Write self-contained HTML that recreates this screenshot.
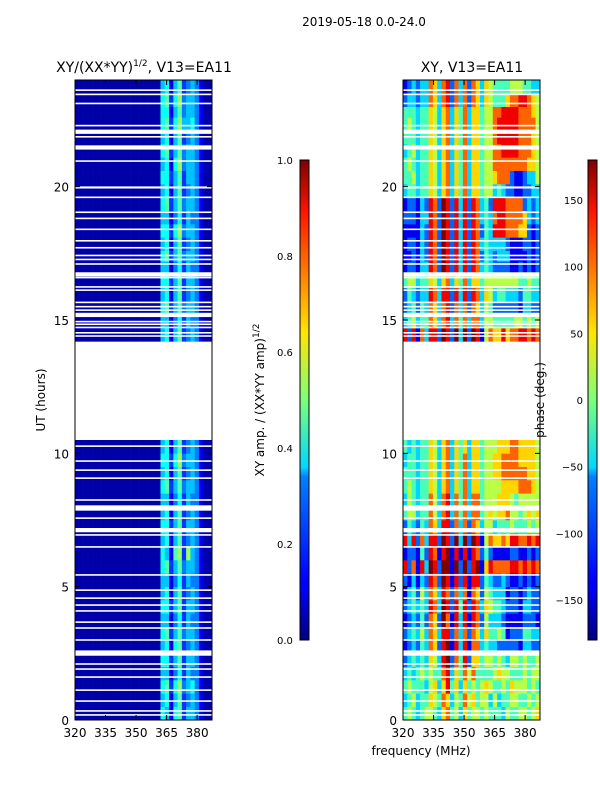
<!DOCTYPE html>
<html><head><meta charset="utf-8">
<style>
html,body{margin:0;padding:0;background:#fff;}
svg text{font-family:"DejaVu Sans","Liberation Sans",sans-serif;fill:#000;}
</style></head>
<body>
<svg id="chart" width="600" height="800" viewBox="0 0 600 800" xmlns="http://www.w3.org/2000/svg">
<defs>
<linearGradient id="jetg" x1="0" y1="1" x2="0" y2="0">
<stop offset="0" stop-color="#00007f"/><stop offset="0.11" stop-color="#0000ff"/>
<stop offset="0.125" stop-color="#0000ff"/><stop offset="0.34" stop-color="#0080ff"/>
<stop offset="0.36" stop-color="#00d8ff"/><stop offset="0.5" stop-color="#7dff7a"/>
<stop offset="0.64" stop-color="#ffe600"/><stop offset="0.66" stop-color="#ffd400"/>
<stop offset="0.89" stop-color="#ff1600"/><stop offset="1" stop-color="#7f0000"/>
</linearGradient>
</defs>
<text x="364" y="26" font-size="12" text-anchor="middle">2019-05-18 0.0-24.0</text>
<text x="144" y="72" font-size="14" text-anchor="middle">XY/(XX*YY)<tspan font-size="9" dy="-6">1/2</tspan><tspan dy="6">, V13=EA11</tspan></text>
<text x="472" y="72" font-size="14" text-anchor="middle">XY, V13=EA11</text>
<g id="leftPanel"></g>
<g id="rightPanel"></g>
<g id="axes"></g>
<text transform="translate(45,400) rotate(-90)" font-size="12" text-anchor="middle">UT (hours)</text>
<text x="421" y="755" font-size="12" text-anchor="middle">frequency (MHz)</text>
<text transform="translate(264,400) rotate(-90)" font-size="12" text-anchor="middle">XY amp. / (XX*YY amp)<tspan font-size="9" dy="-5">1/2</tspan></text>
<text transform="translate(544,400) rotate(-90)" font-size="12" text-anchor="middle">phase (deg.)</text>
<rect x="300" y="160" width="9" height="480" fill="url(#jetg)" stroke="#000" stroke-width="1"/>
<rect x="588" y="160" width="9" height="480" fill="url(#jetg)" stroke="#000" stroke-width="1"/>
</svg>
<script>
const ampRowTimes=[0,0.5,1,1.5,2,2.5,3,3.5,4,4.5,5,5.5,6,6.5,7,7.5,8,8.5,9,9.5,10,14.2,14.7,15.2,15.7,16.2,16.7,17.2,17.6,18.1,18.6,19.1,19.6,20.1,20.6,21.1,21.6,22.1,22.6,23.0,23.5];
const segmentEnds=[10.5,24];
const ampRows=[
"00000000000000000000541562443100","00000000000000000000451462343100","00000000000000000000562573453100",
"00000000000000000000441352433100","00000000000000000000552462443100","00000000000000000000451562343100",
"00000000000000000000562463443100","00000000000000000000441352433100","00000000000000000000552462443100",
"00000000000000000000451462343100","00000000000000000000441352433100","00000000000000000000562463443100",
"00000000000000000000541672743100","00000000000000000000451462343100","00000000000000000000552462443100",
"00000000000000000000451462343100","00000000000000000000441352433100","00000000000000000000562463443100",
"00000000000000000000451462343100","00000000000000000000552573443100","00000000000000000000451462343100",
"00000000000000000000451462343100","00000000000000000000441352433100","00000000000000000000562463443100",
"00000000000000000000451462343100","00000000000000000000552462443100","00000000000000000000441352433100",
"00000000000000000000562463443100","00000000000000000000451462343100","00000000000000000000552573443100",
"00000000000000000000441352433100","00000000000000000000562463443100","00000000000000000000451462343100",
"00000000000000000000552462443100","00000000000000000000451573443100","00000000000000000000562463443100",
"00000000000000000000451462343100","00000000000000000000562574453100","00000000000000000000551463443100",
"00000000000000000000562573443100","00000000000000000000451462343100"];
const phaseRows=[
"45434554367453645545444354455456","34534465476354756455353445544545","45444356368463645456544546555454",
"34345454478364757444456554445455","23434365389274826645545435545445","12324376289183817734332222213322",
"23435376388273727636445412224433","12324276297183818725333211112221","23434387398284828736544322213322",
"13425376387273717625433312212322","21313287298182818824322321121212","82718398299192928916877778878787",
"12214287189181818724211112211212","83827388298293929815766768877878","24324376388273727635534445444545",
"45534475378374737745656675545656","35434475378374737745556665455555","45434465367364736645555666677765",
"44434465367364736645566777777665","34434465367364736645566777766665","43434465367364636645556667766665",
"82817388298293929815766867788787","34534476378374737735544444554545","23424376378273727635422222213322",
"24323387388283828736534433324433","45534465367364736645555555544544","12213387298283828734322221121212",
"11213287298283828724323331111212","12213287298283828734333321112212","11113287298283828724388877766212",
"22213387298283828734378877776323","12213287298283828734288877772323","34434465367364736645534322112233",
"44534465367364736645567772112335","45434465367364736645577777777665","34534465367364736645577888877765",
"44434465367364736645578888877765","45434465367364736645578888877775","44434465367364736645577888877765",
"23323376378273727636544467788765","12323376378273727636544445554433"];
const freqStart=320, freqStep=2.1, freqEnd=387.3;
const flagTimes=[23.62,23.46,23.12,22.29,22.06,21.87,21.47,20.96,19.97,19.6,19.04,18.81,18.4,17.97,17.71,17.42,17.27,17.1,16.71,16.59,16.24,16.12,15.66,15.5,15.37,15.19,14.94,14.84,14.72,14.52,14.4,
10.27,9.71,9.37,9.07,8.25,7.95,7.57,7.12,6.94,6.49,5.44,4.87,4.57,4.31,4.09,3.67,3.45,3.0,2.51,2.1,1.91,1.61,1.12,0.71,0.34,0.19];
const flagWidths=[0.06,0.06,0.06,0.06,0.16,0.06,0.16,0.06,0.08,0.06,0.06,0.06,0.06,0.06,0.06,0.06,0.06,0.06,0.16,0.06,0.06,0.06,0.06,0.06,0.06,0.16,0.06,0.06,0.06,0.06,0.06,
0.06,0.06,0.06,0.06,0.06,0.2,0.06,0.16,0.06,0.06,0.06,0.06,0.06,0.06,0.06,0.06,0.06,0.06,0.2,0.06,0.06,0.06,0.06,0.06,0.06,0.06];
const yTicks=[0,5,10,15,20];
const xTicks=[320,335,350,365,380];
const ampTicks=["0.0","0.2","0.4","0.6","0.8","1.0"];
const ampTickVals=[0,0.2,0.4,0.6,0.8,1.0];
const phaseTicks=[-150,-100,-50,0,50,100,150];

const NS="http://www.w3.org/2000/svg";
const PT=80,PB=720;
function yScale(h){return PB-(h/24)*(PB-PT);}
function xScale(f,x0){return x0+(f-320)*(137/(freqEnd-320));}
function jet(v){
  function c(x){return Math.max(0,Math.min(1,x));}
  const r=c(1.5-Math.abs(4*v-3)),g=c(1.5-Math.abs(4*v-2)),b=c(1.5-Math.abs(4*v-1));
  return "rgb("+Math.round(r*255)+","+Math.round(g*255)+","+Math.round(b*255)+")";
}
function rowEnd(i){
  const t=ampRowTimes[i],n=ampRowTimes[i+1];
  for(const e of segmentEnds){ if(t<e && (n===undefined||n>e)) return e; }
  return n;
}
function drawPanel(gid,rows,x0,lo,span){
  const g=document.getElementById(gid);
  rows.forEach((row,i)=>{
    const t0=ampRowTimes[i],t1=rowEnd(i);
    for(let j=0;j<row.length;j++){
      const f0=freqStart+j*freqStep,f1=Math.min(freqEnd,f0+freqStep);
      const v=lo+span*(+row[j])/9;
      const r=document.createElementNS(NS,"rect");
      
      
      r.setAttribute("x",xScale(f0,x0));r.setAttribute("width",xScale(f1,x0)-xScale(f0,x0)+0.3);
      r.setAttribute("y",yScale(t1));r.setAttribute("height",yScale(t0)-yScale(t1)+0.3);
      r.setAttribute("fill",jet(v));
      g.appendChild(r);
    }
  });
  flagTimes.forEach((t,k)=>{
    const r=document.createElementNS(NS,"rect");
    
    
    r.setAttribute("x",x0);r.setAttribute("width",137);
    r.setAttribute("y",yScale(t+flagWidths[k]/2));
    r.setAttribute("height",yScale(t-flagWidths[k]/2)-yScale(t+flagWidths[k]/2));
    r.setAttribute("fill","#fff");
    g.appendChild(r);
  });
}
drawPanel("leftPanel",ampRows,75,0.04,0.62);
drawPanel("rightPanel",phaseRows,403,0.0,1.0);
const ax=document.getElementById("axes");
function el(tag,attrs,txt){const e=document.createElementNS(NS,tag);for(const k in attrs)e.setAttribute(k,attrs[k]);if(txt!==undefined)e.textContent=txt;ax.appendChild(e);return e;}
[75,403].forEach((x0,p)=>{
  const f=el("rect",{x:x0,y:PT,width:137,height:PB-PT,fill:"none",stroke:"#000","stroke-width":1});
  
  
  yTicks.forEach(v=>{
    const y=yScale(v);
    el("line",{x1:x0,x2:x0+5,y1:y,y2:y,stroke:"#000"});
    el("line",{x1:x0+137,x2:x0+132,y1:y,y2:y,stroke:"#000"});
    const t=el("text",{x:x0-6,y:y+5,"font-size":12,"text-anchor":"end"},String(v));
    
    
  });
  xTicks.forEach(v=>{
    const x=xScale(v,x0);
    el("line",{x1:x,x2:x,y1:PB,y2:PB-5,stroke:"#000"});
    el("line",{x1:x,x2:x,y1:PT,y2:PT+5,stroke:"#000"});
    const t=el("text",{x:x,y:PB+17,"font-size":12,"text-anchor":"middle"},String(v));
    
    
  });
});
ampTickVals.forEach((v,i)=>{
  const y=640-v*480;
  el("line",{x1:300,x2:304,y1:y,y2:y,stroke:"#000"});
  el("line",{x1:309,x2:305,y1:y,y2:y,stroke:"#000"});
  const t=el("text",{x:277,y:y+4,"font-size":10},ampTicks[i]);
  
  
});
phaseTicks.forEach(v=>{
  const y=400-v*(480/360);
  el("line",{x1:588,x2:592,y1:y,y2:y,stroke:"#000"});
  el("line",{x1:597,x2:593,y1:y,y2:y,stroke:"#000"});
  const t=el("text",{x:583,y:y+4,"font-size":10,"text-anchor":"end"},v<0?"\u2212"+(-v):String(v));
  
  
});
</script>
</body></html>
